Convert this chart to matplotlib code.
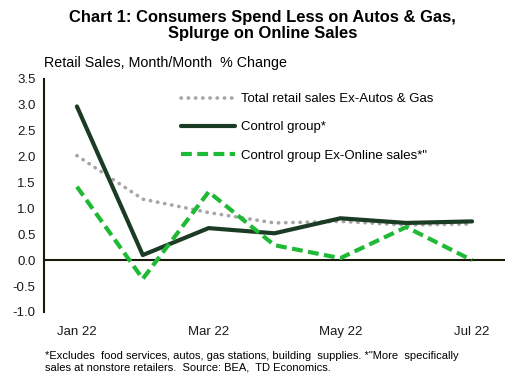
import matplotlib.pyplot as plt
import numpy as np

plt.rcParams['font.family'] = ['Liberation Sans', 'DejaVu Sans']

# data
months = ['Jan 22', 'Feb 22', 'Mar 22', 'Apr 22', 'May 22', 'Jun 22', 'Jul 22']
total_ex_autos_gas = [2.02, 1.18, 0.92, 0.72, 0.75, 0.68, 0.70]
control_group = [2.97, 0.10, 0.62, 0.52, 0.81, 0.72, 0.75]
control_ex_online = [1.42, -0.36, 1.32, 0.29, 0.04, 0.64, 0.0]

tick_idx = [0, 2, 4, 6]
yticks = np.arange(-1.0, 3.51, 0.5)

fig = plt.figure(figsize=(5.15, 3.84), dpi=100)
ax = fig.add_axes([0.0854, 0.1875, 0.8952, 0.6068])

x = np.arange(len(months))
ax.plot(x, total_ex_autos_gas, color='#a6a6a6', lw=2.6, linestyle=(0, (0.1, 1.9)),
        dash_capstyle='round', label='Total retail sales Ex-Autos & Gas')
ax.plot(x, control_group, color='#1c3b24', lw=3.0, solid_capstyle='round',
        label='Control group*')
ax.plot(x, control_ex_online, color='#1fba35', lw=3.0, linestyle=(0, (2.6, 1.3)),
        label='Control group Ex-Online sales*"')

ax.axhline(0, color='#1a1a0a', lw=1.5, zorder=1)

ax.set_xlim(-0.5, 6.5)
ax.set_ylim(-1.0, 3.5)
ax.set_yticks(yticks)
ax.set_yticklabels([f'{v:.1f}' for v in yticks])
ax.set_xticks(tick_idx)
ax.set_xticklabels([months[i] for i in tick_idx])
ax.tick_params(length=0, labelsize=9.5, colors='#1a1a1a')
ax.tick_params(axis='x', pad=10)
ax.tick_params(axis='y', pad=6)

for s in ['top', 'right', 'bottom']:
    ax.spines[s].set_visible(False)
ax.spines['left'].set_color('#1a1a0a')
ax.spines['left'].set_linewidth(1.5)

leg = ax.legend(loc='upper left', bbox_to_anchor=(0.272, 0.99), frameon=False,
                fontsize=9.5, handlelength=4.1, handletextpad=0.45, labelspacing=1.2)

fig.text(0.51, 0.975, 'Chart 1: Consumers Spend Less on Autos & Gas,\nSplurge on Online Sales',
         ha='center', va='top', fontsize=11.9, fontweight='bold', linespacing=1.15)
fig.text(0.0854, 0.835, 'Retail Sales, Month/Month  % Change', ha='left', va='center', fontsize=10.3)
fig.text(0.087, 0.058, '*Excludes  food services, autos, gas stations, building  supplies. *"More  specifically\n'
         'sales at nonstore retailers.  Source: BEA,  TD Economics.',
         ha='left', va='center', fontsize=8.0, linespacing=1.25)

fig.savefig('out.png', dpi=100)
